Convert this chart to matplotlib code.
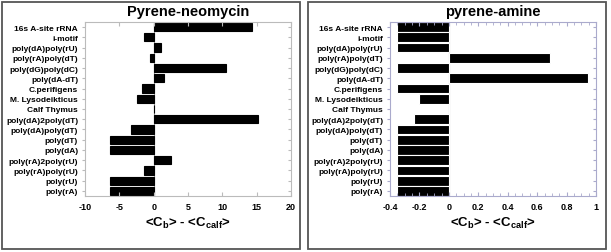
import numpy as np
import matplotlib.pyplot as plt
from matplotlib.patches import Rectangle
from matplotlib.ticker import MultipleLocator, FuncFormatter

plt.rcParams['font.family'] = ['Liberation Sans', 'DejaVu Sans']
plt.rcParams['font.weight'] = 'bold'
plt.rcParams['mathtext.default'] = 'bf'
plt.rcParams['mathtext.fontset'] = 'custom'
plt.rcParams['mathtext.bf'] = 'Liberation Sans:bold'
plt.rcParams['mathtext.rm'] = 'Liberation Sans:bold'

categories = ["16s A-site rRNA", "i-motif", "poly(dA)poly(rU)", "poly(rA)poly(dT)",
              "poly(dG)poly(dC)", "poly(dA-dT)", "C.perifigens", "M. Lysodeikticus",
              "Calf Thymus", "poly(dA)2poly(dT)", "poly(dA)poly(dT)", "poly(dT)",
              "poly(dA)", "poly(rA)2poly(rU)", "poly(rA)poly(rU)", "poly(rU)", "poly(rA)"]

neomycin = [14.3, -1.4, 1.1, -0.6, 10.6, 1.5, -1.7, -2.5, 0.0, 15.2, -3.3,
            -6.3, -6.3, 2.5, -1.4, -6.3, -6.3]

amine = [-0.35, -0.35, -0.35, 0.69, -0.35, 0.945, -0.35, -0.205, 0.0, -0.235, -0.35,
         -0.35, -0.35, -0.35, -0.35, -0.35, -0.35]

fig = plt.figure(figsize=(6.11, 2.53), dpi=100)

# outer boxes around each panel
for x0 in (2 / 611, 308 / 611):
    fig.patches.append(Rectangle((x0, 3 / 253), 298 / 611, 247 / 253, transform=fig.transFigure,
                                 fill=False, edgecolor='#555555', linewidth=1.3))

ypos = np.arange(len(categories))
fmt = FuncFormatter(lambda v, p: ('%g' % round(v, 6)).replace('\u2212', '-'))


def panel(rect, values, title, xlim, major, minor, spine_col, edge, h):
    ax = fig.add_axes(rect)
    ax.barh(ypos, values, height=h, color='black', edgecolor=edge, linewidth=0.8)
    ax.axvline(0, color='#999999', linewidth=0.8, zorder=0)
    ax.set_xlim(*xlim)
    ax.set_ylim(16.5, -0.5)
    ax.set_yticks(ypos)
    ax.set_yticklabels(categories, fontsize=6, fontweight='bold')
    ax.xaxis.set_major_locator(MultipleLocator(major))
    ax.xaxis.set_major_formatter(fmt)
    if minor:
        ax.xaxis.set_minor_locator(MultipleLocator(minor))
    for lab in ax.get_xticklabels():
        lab.set_fontsize(6.5)
        lab.set_fontweight('bold')
    for s in ax.spines.values():
        s.set_color(spine_col)
        s.set_linewidth(0.8)
    ax.tick_params(axis='x', which='both', direction='in', top=True, colors=spine_col,
                   labelcolor='black', length=3, pad=4)
    ax.tick_params(axis='x', which='minor', length=2)
    ax.tick_params(axis='y', direction='out', right=False, colors=spine_col,
                   labelcolor='black', length=2, pad=3)
    ax2 = ax.twinx()
    ax2.set_ylim(ax.get_ylim())
    ax2.set_yticks(ypos)
    ax2.set_yticklabels([])
    ax2.tick_params(axis='y', direction='in', colors=spine_col, length=2)
    for s in ax2.spines.values():
        s.set_visible(False)
    ax.set_title(title, fontsize=10.5, fontweight='bold', pad=5)
    ax.set_xlabel(r'<C$_{b}$> - <C$_{calf}$>', fontsize=9.5, fontweight='bold', labelpad=3)
    return ax


panel([85 / 611, 1 - 197 / 253, 206 / 611, 174 / 253], neomycin, "Pyrene-neomycin",
      (-10, 20), 5, None, '#bbbbbb', 'black', 0.8)
panel([390 / 611, 1 - 197 / 253, 206 / 611, 174 / 253], amine, "pyrene-amine",
      (-0.4, 1.0), 0.2, 0.05, '#aaaacc', 'white', 0.95)

fig.savefig("out.png", dpi=100)
